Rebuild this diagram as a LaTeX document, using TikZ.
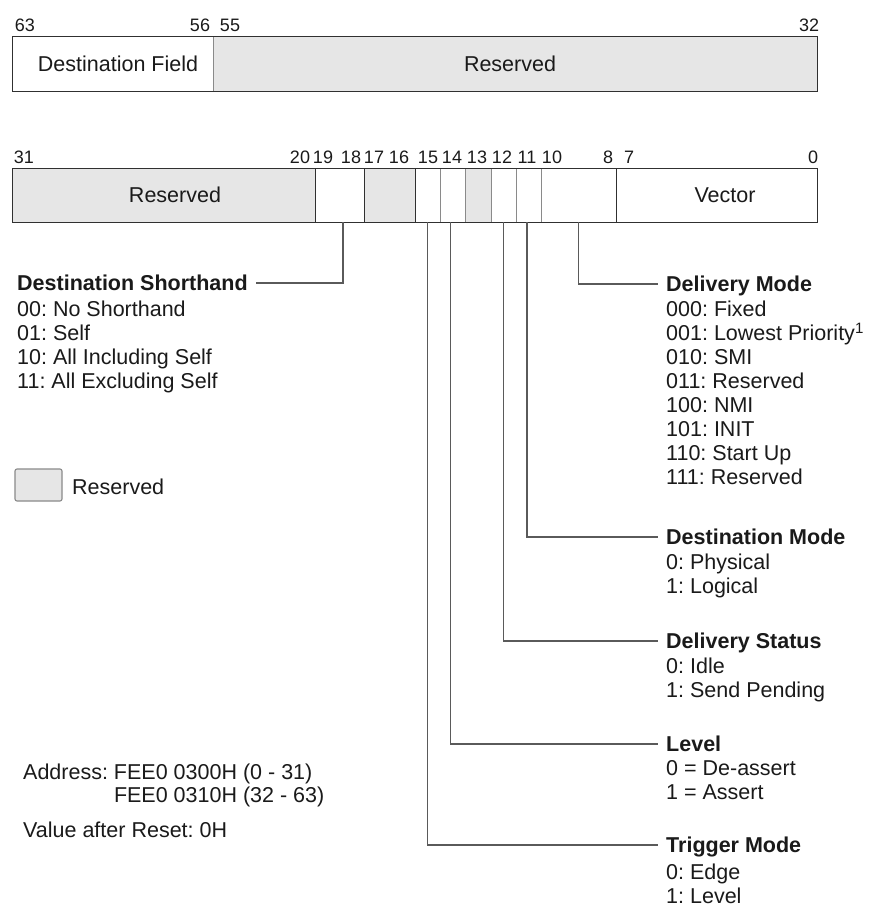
\documentclass[tikz,border=0pt]{standalone}
\usepackage{fontspec}
\setmainfont{Liberation Sans}
\frenchspacing
\definecolor{resv}{HTML}{E6E6E6}
\definecolor{edgec}{HTML}{303030}
\definecolor{leadc}{HTML}{5A5A5A}
\definecolor{divc}{HTML}{8A8A8A}
\definecolor{txtc}{HTML}{1A1A1A}
\tikzset{
  cell/.style={minimum height=53pt, inner sep=0pt, fill=white},
  rcell/.style={cell, fill=resv},
  bitnum/.style={font=\fontsize{18}{18}\selectfont, inner sep=0pt, text=txtc},
  txt/.style={font=\fontsize{21.5}{24}\selectfont\frenchspacing, inner sep=0pt, text height=15.4pt, text depth=0pt, anchor=west, text=txtc},
  ctxt/.style={txt, anchor=center},
  hdr/.style={txt, font=\fontsize{21.5}{24}\selectfont\bfseries\frenchspacing, inner xsep=8pt},
  leader/.style={draw=leadc, line width=1.2pt},
  outline/.style={draw=edgec, line width=1.3pt},
  darkdiv/.style={draw=edgec, line width=1.1pt},
  lightdiv/.style={draw=divc, line width=1.1pt},
}
\begin{document}
\begin{tikzpicture}[x=1pt, y=-1pt]
\useasboundingbox[fill=white] (0,0) rectangle (869,909);

% ---- top register (63..32)
\node[cell, minimum height=54pt, minimum width=200pt] (df) at (113,64) {};
\node[rcell, minimum height=54pt, minimum width=604pt] (rtop) at (515,64) {};
\draw[lightdiv] (df.north east) -- (df.south east);
\draw[outline] (df.north west) rectangle (rtop.south east);
\node[ctxt] (tdf) at (118,64) {Destination Field};
\node[ctxt] (trt) at (510,64) {Reserved};
\node[bitnum] (b63) at (25,25) {63};
\node[bitnum] (b56) at (200,25) {56};
\node[bitnum] (b55) at (230,25) {55};
\node[bitnum] (b32) at (809,25) {32};

% ---- bottom register (31..0)
\node[rcell, minimum width=302pt] (r31) at (164,195.5) {};
\node[cell,  minimum width=49pt]  (c19) at (339.5,195.5) {};
\node[rcell, minimum width=51pt]  (r17) at (389.5,195.5) {};
\node[cell,  minimum width=25pt]  (c15) at (427.5,195.5) {};
\node[cell,  minimum width=25pt]  (c14) at (452.5,195.5) {};
\node[rcell, minimum width=26pt]  (r13) at (478,195.5) {};
\node[cell,  minimum width=25pt]  (c12) at (503.5,195.5) {};
\node[cell,  minimum width=25pt]  (c11) at (528.5,195.5) {};
\node[cell,  minimum width=75pt]  (c10) at (578.5,195.5) {};
\node[cell,  minimum width=201pt] (vec) at (716.5,195.5) {};
\foreach \n in {c15,c14,r13,c12,c11}{\draw[lightdiv] (\n.north east) -- (\n.south east);}
\foreach \n in {r31,c19,r17,c10}{\draw[darkdiv] (\n.north east) -- (\n.south east);}
\draw[outline] (r31.north west) rectangle (vec.south east);
\node[ctxt] (trb) at (175,195) {Reserved};
\node[ctxt] (tvec) at (725,195) {Vector};

\node[bitnum] (n31) at (24,157) {31};
\node[bitnum] (n20) at (300,157) {20};
\node[bitnum] (n19) at (323,157) {19};
\node[bitnum] (n18) at (351,157) {18};
\node[bitnum] (n17) at (374,157) {17};
\node[bitnum] (n16) at (399,157) {16};
\node[bitnum] (n15) at (428,157) {15};
\node[bitnum] (n14) at (452,157) {14};
\node[bitnum] (n13) at (477,157) {13};
\node[bitnum] (n12) at (502,157) {12};
\node[bitnum] (n11) at (527,157) {11};
\node[bitnum] (n10) at (552,157) {10};
\node[bitnum] (n8)  at (608,157) {8};
\node[bitnum] (n7)  at (629,157) {7};
\node[bitnum] (n0)  at (813,157) {0};

% ---- Destination Shorthand
\node[hdr] (dsh) at (9,283) {Destination Shorthand};
\node[txt] (dsh1) at (17,309) {00: No Shorthand};
\node[txt] (dsh2) at (17,333) {01: Self};
\node[txt] (dsh3) at (17,357) {10: All Including Self};
\node[txt] (dsh4) at (17,381) {11: All Excluding Self};
\draw[leader] ([xshift=3.5pt]c19.south) |- (dsh.east);

% ---- Delivery Mode
\node[hdr] (dm) at (658,284) {Delivery Mode};
\node[txt] (dm1) at (666,309) {000: Fixed};
\node[txt] (dm2) at (666,333) {001: Lowest Priority\textsuperscript{1}};
\node[txt] (dm3) at (666,357) {010: SMI};
\node[txt] (dm4) at (666,381) {011: Reserved};
\node[txt] (dm5) at (666,405) {100: NMI};
\node[txt] (dm6) at (666,429) {101: INIT};
\node[txt] (dm7) at (666,453) {110: Start Up};
\node[txt] (dm8) at (666,477) {111: Reserved};
\draw[leader] (c10.south) |- (dm.west);

% ---- Destination Mode
\node[hdr] (dmo) at (658,537) {Destination Mode};
\node[txt] (dmo1) at (666,562) {0: Physical};
\node[txt] (dmo2) at (666,586) {1: Logical};
\draw[leader] ([xshift=-1.5pt]c11.south) |- (dmo.west);

% ---- Delivery Status
\node[hdr] (dst) at (658,641) {Delivery Status};
\node[txt] (dst1) at (666,666) {0: Idle};
\node[txt] (dst2) at (666,690) {1: Send Pending};
\draw[leader] (c12.south) |- (dst.west);

% ---- Level
\node[hdr] (lvl) at (658,744) {Level};
\node[txt] (lvl1) at (666,768) {0 = De-assert};
\node[txt] (lvl2) at (666,792) {1 = Assert};
\draw[leader] ([xshift=-2pt]c14.south) |- (lvl.west);

% ---- Trigger Mode
\node[hdr] (trg) at (658,845) {Trigger Mode};
\node[txt] (trg1) at (666,872) {0: Edge};
\node[txt] (trg2) at (666,896) {1: Level};
\draw[leader] (c15.south) |- (trg.west);

% ---- legend
\node[draw=divc, line width=1.1pt, fill=resv, rounded corners=2pt, minimum width=47pt, minimum height=32pt, inner sep=0pt] (leg) at (38.5,485) {};
\node[txt] (legt) at (72,487) {Reserved};

% ---- address
\node[txt] (ad1) at (23,772) {Address: FEE0 0300H (0 - 31)};
\node[txt] (ad2) at (23,795) {\phantom{Address: }FEE0 0310H (32 - 63)};
\node[txt] (rst) at (23,830) {Value after Reset: 0H};
\end{tikzpicture}
\end{document}
